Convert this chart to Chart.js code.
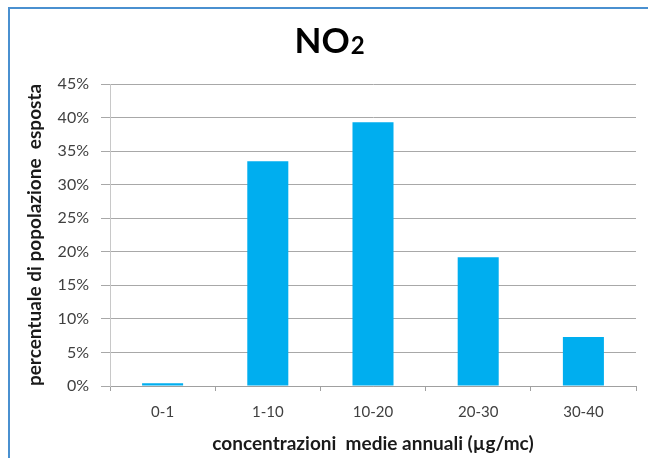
<!DOCTYPE html>
<html>
<head>
<meta charset="utf-8">
<script src="https://cdn.jsdelivr.net/npm/chart.js@4/dist/chart.umd.min.js"></script>
<style>
  html, body { margin: 0; padding: 0; background: #fff; }
  #wrap { position: relative; width: 648px; height: 458px; }
</style>
</head>
<body>
<div id="wrap"><canvas id="c" width="648" height="458"></canvas></div>
<script>
// NO2 exposure by annual mean concentration class
const categories = ['0-1', '1-10', '10-20', '20-30', '30-40'];
const sharePercent = [0.4, 33.5, 39.3, 19.2, 7.3];
const yTicks = [0, 5, 10, 15, 20, 25, 30, 35, 40, 45];
const titleMain = 'NO';
const titleSub = '2';
const yTitle = 'percentuale di popolazione  esposta';
const xTitle = 'concentrazioni  medie annuali (µg/mc)';

const FONT = 'Lato, "Open Sans", sans-serif';

// frame lines and two-part title
const framePlugin = {
  id: 'frame',
  beforeDraw(chart) {
    const ctx = chart.ctx;
    ctx.save();
    ctx.fillStyle = '#ffffff';
    ctx.fillRect(0, 0, chart.width, chart.height);
    ctx.strokeStyle = '#4a90d0';
    ctx.lineWidth = 2;
    ctx.beginPath();
    ctx.moveTo(9, chart.height);
    ctx.lineTo(9, 8);
    ctx.lineTo(chart.width, 8);
    ctx.stroke();
    ctx.restore();
  },
  afterDraw(chart) {
    const ctx = chart.ctx;
    ctx.save();
    ctx.fillStyle = '#000000';
    ctx.textBaseline = 'alphabetic';
    ctx.font = 'bold 35px ' + FONT;
    const w1 = ctx.measureText(titleMain).width;
    ctx.font = 'bold 24px ' + FONT;
    const w2 = ctx.measureText(titleSub).width;
    const x0 = 329 - (w1 + w2) / 2;
    const base = 53;
    ctx.font = 'bold 35px ' + FONT;
    ctx.fillText(titleMain, x0, base);
    ctx.font = 'bold 24px ' + FONT;
    ctx.fillText(titleSub, x0 + w1 + 1, base + 1);
    ctx.restore();
  }
};

new Chart(document.getElementById('c'), {
  type: 'bar',
  data: {
    labels: categories,
    datasets: [{
      data: sharePercent,
      backgroundColor: '#00aeef',
      borderWidth: 0,
      categoryPercentage: 1.0,
      barPercentage: 0.39
    }]
  },
  options: {
    responsive: false,
    animation: false,
    devicePixelRatio: 1,
    layout: { padding: { left: 20, right: 12, top: 84, bottom: 3 } },
    plugins: {
      legend: { display: false },
      title: { display: false },
      tooltip: { enabled: false }
    },
    scales: {
      x: {
        afterFit(scale) { scale.height = 69; },
        grid: { display: true, drawOnChartArea: false, drawTicks: true, tickLength: 5, color: '#a0a0a0', offset: true },
        border: { display: true, color: '#a0a0a0', width: 1 },
        ticks: { color: '#404040', font: { family: FONT, size: 15 }, padding: 12 },
        title: { display: true, text: xTitle, color: '#1a1a1a', font: { family: FONT, size: 19, weight: 'bold' }, padding: { top: 0, bottom: 0 } }
      },
      y: {
        min: 0,
        max: 45,
        afterFit(scale) { scale.width = 90; },
        afterBuildTicks(scale) { scale.ticks = yTicks.map(v => ({ value: v })); },
        grid: { color: '#a8a8a8', lineWidth: 1, tickLength: 9 },
        border: { display: true, color: '#c8c8c8', width: 1 },
        ticks: { color: '#404040', font: { family: FONT, size: 16 }, padding: 12, callback: v => v + '%' },
        title: { display: true, text: yTitle, color: '#1a1a1a', font: { family: FONT, size: 19, weight: 'bold' }, padding: { top: 3, bottom: 0 } }
      }
    }
  },
  plugins: [framePlugin]
});
</script>
</body>
</html>
